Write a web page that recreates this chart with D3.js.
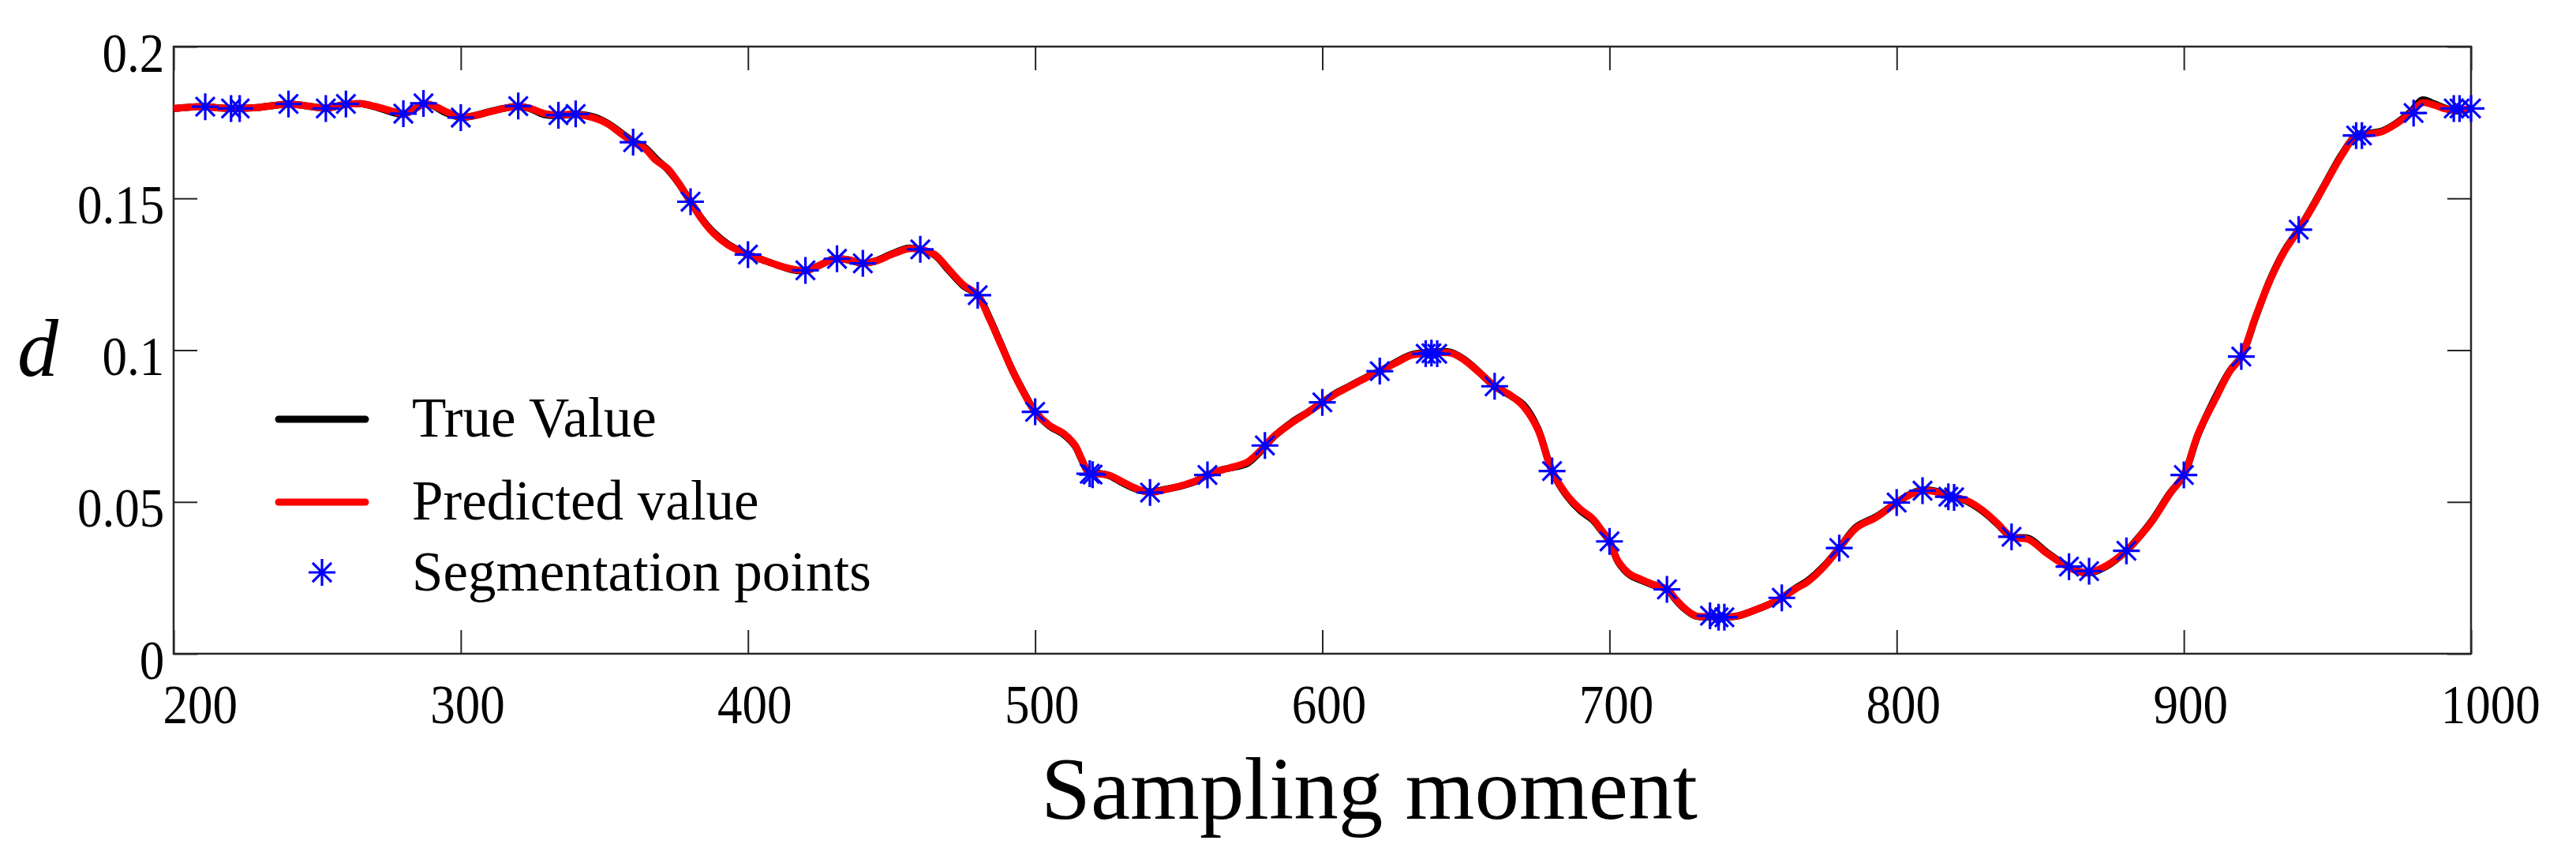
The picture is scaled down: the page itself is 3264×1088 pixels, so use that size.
<!DOCTYPE html>
<html>
<head>
<meta charset="utf-8">
<script src="https://cdn.jsdelivr.net/npm/d3@7"></script>
<style>
  html, body { margin: 0; padding: 0; background: #fff; }
  svg { display: block; }
  text { font-family: "Liberation Serif", "Times New Roman", serif; fill: #000; }
</style>
</head>
<body>
<svg id="chart" width="3264" height="1088"></svg>
<script>
// ---------------- DATA ----------------
const moments = [200,205,211,216,220,224,230,235,240,246,253,259,265,270,277,280,284,287,290,295,300,305,310,317,320,324,329,334,340,346,351,356,360,364,368,372,376,380,384,388,393,400,405,410,415,420,425,430,435,440,445,450,456,460,465,470,475,480,484,488,492,496,500,505,510,514,516,519,522,526,530,535,540,545,551,556,560,565,570,574,578,583,589,595,600,605,610,615,620,625,631,636,640,645,649,652,656,660,665,670,675,680,685,690,694,697,700,703,707,711,715,720,723,726,730,735,740,745,749,755,760,765,769,775,780,786,793,800,805,809,814,820,824,830,835,840,846,852,858,863,867,873,880,885,889,895,900,905,911,916,920,925,930,935,940,945,950,955,960,964,969,974,979,983,987,991,995,1000];

const predictedValue = [0.1796,0.1800,0.1802,0.1798,0.1796,0.1797,0.1800,0.1806,0.1811,0.1805,0.1798,0.1808,0.1812,0.1803,0.1785,0.1779,0.1795,0.1810,0.1807,0.1785,0.1768,0.1773,0.1785,0.1800,0.1803,0.1797,0.1780,0.1775,0.1777,0.1766,0.1746,0.1712,0.1685,0.1665,0.1625,0.1598,0.1548,0.1489,0.1430,0.1385,0.1347,0.1315,0.1298,0.1281,0.1268,0.1263,0.1280,0.1300,0.1298,0.1287,0.1295,0.1315,0.1334,0.1332,0.1315,0.1265,0.1215,0.1181,0.1105,0.1020,0.0935,0.0860,0.0797,0.0752,0.0725,0.0685,0.0645,0.0593,0.0592,0.0587,0.0568,0.0545,0.0531,0.0540,0.0554,0.0570,0.0589,0.0605,0.0618,0.0632,0.0665,0.0715,0.0758,0.0795,0.0828,0.0858,0.0883,0.0908,0.0931,0.0955,0.0983,0.0990,0.0992,0.0990,0.0970,0.0948,0.0915,0.0881,0.0855,0.0815,0.0740,0.0602,0.0525,0.0475,0.0446,0.0410,0.0370,0.0305,0.0263,0.0245,0.0229,0.0212,0.0180,0.0151,0.0125,0.0122,0.0120,0.0125,0.0138,0.0160,0.0184,0.0215,0.0237,0.0290,0.0348,0.0415,0.0450,0.0498,0.0525,0.0537,0.0533,0.0515,0.0506,0.0472,0.0430,0.0385,0.0376,0.0333,0.0295,0.0272,0.0268,0.0290,0.0339,0.0390,0.0437,0.0525,0.0589,0.0725,0.0840,0.0930,0.0979,0.1110,0.1230,0.1325,0.1397,0.1475,0.1560,0.1642,0.1707,0.1712,0.1720,0.1746,0.1781,0.1815,0.1808,0.1795,0.1790,0.1796];

const trueValue = [0.1796,0.1800,0.1802,0.1798,0.1796,0.1797,0.1800,0.1806,0.1811,0.1805,0.1797,0.1808,0.1812,0.1802,0.1781,0.1777,0.1795,0.1811,0.1806,0.1781,0.1767,0.1773,0.1786,0.1800,0.1803,0.1796,0.1776,0.1773,0.1777,0.1769,0.1748,0.1715,0.1688,0.1668,0.1630,0.1596,0.1548,0.1489,0.1432,0.1388,0.1349,0.1315,0.1298,0.1281,0.1266,0.1262,0.1280,0.1301,0.1297,0.1286,0.1296,0.1317,0.1336,0.1332,0.1313,0.1262,0.1212,0.1181,0.1108,0.1022,0.0935,0.0862,0.0797,0.0750,0.0722,0.0683,0.0643,0.0593,0.0594,0.0586,0.0565,0.0543,0.0533,0.0541,0.0553,0.0568,0.0589,0.0606,0.0616,0.0628,0.0662,0.0714,0.0760,0.0796,0.0828,0.0860,0.0884,0.0909,0.0931,0.0957,0.0985,0.0992,0.0995,0.0992,0.0972,0.0950,0.0915,0.0881,0.0853,0.0820,0.0743,0.0602,0.0522,0.0470,0.0442,0.0408,0.0370,0.0303,0.0260,0.0242,0.0227,0.0212,0.0178,0.0149,0.0124,0.0121,0.0120,0.0125,0.0138,0.0160,0.0184,0.0217,0.0240,0.0292,0.0348,0.0418,0.0452,0.0498,0.0527,0.0539,0.0535,0.0515,0.0504,0.0469,0.0428,0.0385,0.0380,0.0336,0.0297,0.0272,0.0266,0.0288,0.0339,0.0392,0.0440,0.0527,0.0589,0.0723,0.0845,0.0932,0.0979,0.1108,0.1232,0.1327,0.1397,0.1477,0.1562,0.1645,0.1707,0.1714,0.1722,0.1748,0.1785,0.1824,0.1812,0.1797,0.1788,0.1796];

const segMoments = [211,220,223,240,253,260,280,287,300,320,334,340,360,380,400,420,431,440,460,480,500,519,520,540,560,580,600,620,636,638,640,660,680,700,720,735,738,740,760,780,800,809,818,820,840,860,867,880,900,920,940,960,962,980,994,996,1000];
const segValues  = [0.1802,0.1796,0.1796,0.1811,0.1796,0.1811,0.1779,0.1813,0.1766,0.1804,0.1774,0.1778,0.1685,0.1489,0.1315,0.1263,0.1301,0.1286,0.1332,0.1181,0.0797,0.0593,0.0590,0.0531,0.0589,0.0686,0.0828,0.0931,0.0988,0.0990,0.0988,0.0881,0.0602,0.0370,0.0212,0.0125,0.0120,0.0120,0.0184,0.0348,0.0498,0.0537,0.0517,0.0515,0.0385,0.0287,0.0272,0.0339,0.0589,0.0979,0.1397,0.1707,0.1707,0.1781,0.1796,0.1796,0.1796];

const xTicks = [200,300,400,500,600,700,800,900,1000];
const xTickLabels = ["200","300","400","500","600","700","800","900","1000"];
const yTicks = [0,0.05,0.1,0.15,0.2];
const yTickLabels = ["0","0.05","0.1","0.15","0.2"];

const seriesNames = ["True Value","Predicted value","Segmentation points"];
const xTitle = "Sampling moment";
const yTitle = "d";

// ---------------- LAYOUT ----------------
const L = 220, R = 3131, T = 59, B = 828;
const axisColor = "#262626";
const serif = '"Liberation Serif", "Times New Roman", serif';

const svg = d3.select("#chart");
const x = d3.scaleLinear().domain([200, 1000]).range([L, R]);
const y = d3.scaleLinear().domain([0, 0.2]).range([B, T]);

// frame
svg.append("rect")
  .attr("x", L).attr("y", T).attr("width", R - L).attr("height", B - T)
  .attr("fill", "none").attr("stroke", axisColor).attr("stroke-width", 2.5);

function styleAxis(g) {
  g.select(".domain").remove();
  g.selectAll(".tick line").attr("stroke", axisColor).attr("stroke-width", 2);
}

// bottom axis
const gx = svg.append("g").attr("transform", `translate(0,${B})`)
  .call(d3.axisBottom(x).tickValues(xTicks).tickFormat((d, i) => xTickLabels[i])
    .tickSizeInner(-30).tickSizeOuter(0));
styleAxis(gx);
const nX = xTicks.length;
gx.selectAll(".tick text")
  .attr("y", 88).attr("dy", null)
  .attr("x", (d, i) => i === 0 ? 37 : (i === nX - 1 ? 27 : 9))
  .attr("fill", "#262626")
  .style("font-size", "70px")
  .style("font-family", serif)
  .attr("transform", "scale(0.9,1)");

// top axis (ticks only)
const gxt = svg.append("g").attr("transform", `translate(0,${T})`)
  .call(d3.axisTop(x).tickValues(xTicks).tickFormat("").tickSizeInner(-30).tickSizeOuter(0));
styleAxis(gxt);

// left axis
const gy = svg.append("g").attr("transform", `translate(${L},0)`)
  .call(d3.axisLeft(y).tickValues(yTicks).tickFormat((d, i) => yTickLabels[i])
    .tickSizeInner(-30).tickSizeOuter(0));
styleAxis(gy);
gy.selectAll(".tick text")
  .attr("x", -13).attr("y", 31).attr("dy", null)
  .attr("text-anchor", "end")
  .attr("fill", "#262626")
  .style("font-size", "70px")
  .style("font-family", serif)
  .attr("transform", "scale(0.9,1)");

// right axis (ticks only)
const gyr = svg.append("g").attr("transform", `translate(${R},0)`)
  .call(d3.axisRight(y).tickValues(yTicks).tickFormat("").tickSizeInner(-30).tickSizeOuter(0));
styleAxis(gyr);

// ---------------- SERIES ----------------
const trueData = moments.map((m, i) => ({ m, v: trueValue[i] }));
const predData = moments.map((m, i) => ({ m, v: predictedValue[i] }));
const segData = segMoments.map((m, i) => ({ m, v: segValues[i] }));

const line = d3.line().x(d => x(d.m)).y(d => y(d.v)).curve(d3.curveCatmullRom.alpha(0.5));

svg.append("path").datum(trueData)
  .attr("d", line).attr("fill", "none").attr("stroke", "#000").attr("stroke-width", 9)
  .attr("stroke-linejoin", "round");
svg.append("path").datum(predData)
  .attr("d", line).attr("fill", "none").attr("stroke", "#ff0000").attr("stroke-width", 9)
  .attr("stroke-linejoin", "round");

function asteriskPath(r) {
  const a = r * 0.7071;
  return `M0,${-r}L0,${r}M${-r},0L${r},0M${-a},${-a}L${a},${a}M${-a},${a}L${a},${-a}`;
}
svg.append("g").selectAll("path").data(segData).join("path")
  .attr("transform", d => `translate(${x(d.m)},${y(d.v)})`)
  .attr("d", asteriskPath(17))
  .attr("fill", "none").attr("stroke", "#0000ff").attr("stroke-width", 3.2);

// ---------------- LEGEND ----------------
const lg = svg.append("g");
const legendRows = [
  { name: seriesNames[0], type: "line", color: "#000", y: 531, ty: 553 },
  { name: seriesNames[1], type: "line", color: "#ff0000", y: 636, ty: 658 },
  { name: seriesNames[2], type: "marker", color: "#0000ff", y: 725, ty: 748 }
];
legendRows.forEach(r => {
  if (r.type === "line") {
    lg.append("line").attr("x1", 353).attr("x2", 463).attr("y1", r.y).attr("y2", r.y)
      .attr("stroke", r.color).attr("stroke-width", 9).attr("stroke-linecap", "round");
  } else {
    lg.append("path").attr("transform", `translate(408,${r.y})`)
      .attr("d", asteriskPath(17)).attr("fill", "none")
      .attr("stroke", r.color).attr("stroke-width", 3.2);
  }
  lg.append("text").attr("x", 522).attr("y", r.ty)
    .style("font-size", "71px").text(r.name);
});

// ---------------- TITLES ----------------
svg.append("text").attr("x", 1735).attr("y", 1037)
  .attr("text-anchor", "middle").style("font-size", "113px").text(xTitle);
svg.append("text").attr("x", 48).attr("y", 476)
  .attr("text-anchor", "middle").style("font-size", "104px").style("font-style", "italic").text(yTitle);
</script>
</body>
</html>
